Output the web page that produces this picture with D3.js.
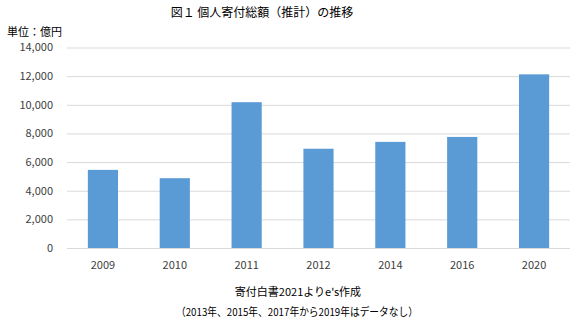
<!DOCTYPE html>
<html>
<head>
<meta charset="utf-8">
<script src="https://cdn.jsdelivr.net/npm/d3@7"></script>
<style>
  body { margin: 0; background: #fff; }
  text { font-family: "Noto Sans CJK JP", "Noto Sans", sans-serif; }
</style>
</head>
<body>
<div class="chart"></div>
<script>
const years = ["2009", "2010", "2011", "2012", "2014", "2016", "2020"]
const amounts = [5455, 4874, 10182, 6931, 7409, 7756, 12126]
const yTicks = [0, 2000, 4000, 6000, 8000, 10000, 12000, 14000]

const width = 583, height = 325
const margin = { top: 47.5, right: 13, bottom: 77, left: 67 }

const svg = d3.select(".chart")
    .append("svg")
    .attr("width", width)
    .attr("height", height)

const x = d3.scaleBand()
    .domain(years)
    .range([margin.left, width - margin.right])
    .paddingInner(0.58)
    .paddingOuter(0.29)

const y = d3.scaleLinear()
    .domain([0, 14000])
    .range([height - margin.bottom, margin.top])

// grid
svg.append("g")
    .selectAll("line")
    .data(yTicks)
    .join("line")
    .attr("x1", margin.left)
    .attr("x2", width - margin.right)
    .attr("y1", d => y(d) + 0.5)
    .attr("y2", d => y(d) + 0.5)
    .attr("stroke", "#d9d9d9")
    .attr("stroke-width", 1)

// y labels
svg.append("g")
    .attr("text-anchor", "end")
    .selectAll("text")
    .data(yTicks)
    .join("text")
    .attr("x", 53)
    .attr("y", d => y(d))
    .attr("dy", "0.35em")
    .attr("font-size", 11)
    .attr("fill", "#404040")
    .text(d => d3.format(",")(d))

// bars
svg.append("g")
    .attr("fill", "#5b9bd5")
    .selectAll("rect")
    .data(years)
    .join("rect")
    .attr("x", d => x(d))
    .attr("width", x.bandwidth())
    .attr("y", (d, i) => y(amounts[i]))
    .attr("height", (d, i) => y(0) - y(amounts[i]))

// x labels
svg.append("g")
    .attr("text-anchor", "middle")
    .selectAll("text")
    .data(years)
    .join("text")
    .attr("x", d => x(d) + x.bandwidth() / 2)
    .attr("y", 265)
    .attr("dy", "0.35em")
    .attr("font-size", 11)
    .attr("fill", "#404040")
    .text(d => d)

// title & notes
svg.append("text")
    .attr("x", 262)
    .attr("y", 13)
    .attr("dy", "0.35em")
    .attr("text-anchor", "middle")
    .attr("font-size", 12)
    .attr("fill", "#000")
    .text("図１ 個人寄付総額（推計）の推移")

svg.append("text")
    .attr("x", 7)
    .attr("y", 32)
    .attr("dy", "0.35em")
    .attr("font-size", 11)
    .attr("fill", "#000")
    .text("単位：億円")

svg.append("text")
    .attr("x", 298)
    .attr("y", 292)
    .attr("dy", "0.35em")
    .attr("text-anchor", "middle")
    .attr("font-size", 11)
    .attr("fill", "#000")
    .text("寄付白書2021よりe's作成")

svg.append("text")
    .attr("x", 297)
    .attr("y", 312)
    .attr("dy", "0.35em")
    .attr("text-anchor", "middle")
    .attr("font-size", 11)
    .attr("textLength", 242)
    .attr("lengthAdjust", "spacingAndGlyphs")
    .attr("fill", "#000")
    .text("（2013年、2015年、2017年から2019年はデータなし）")
</script>
</body>
</html>
